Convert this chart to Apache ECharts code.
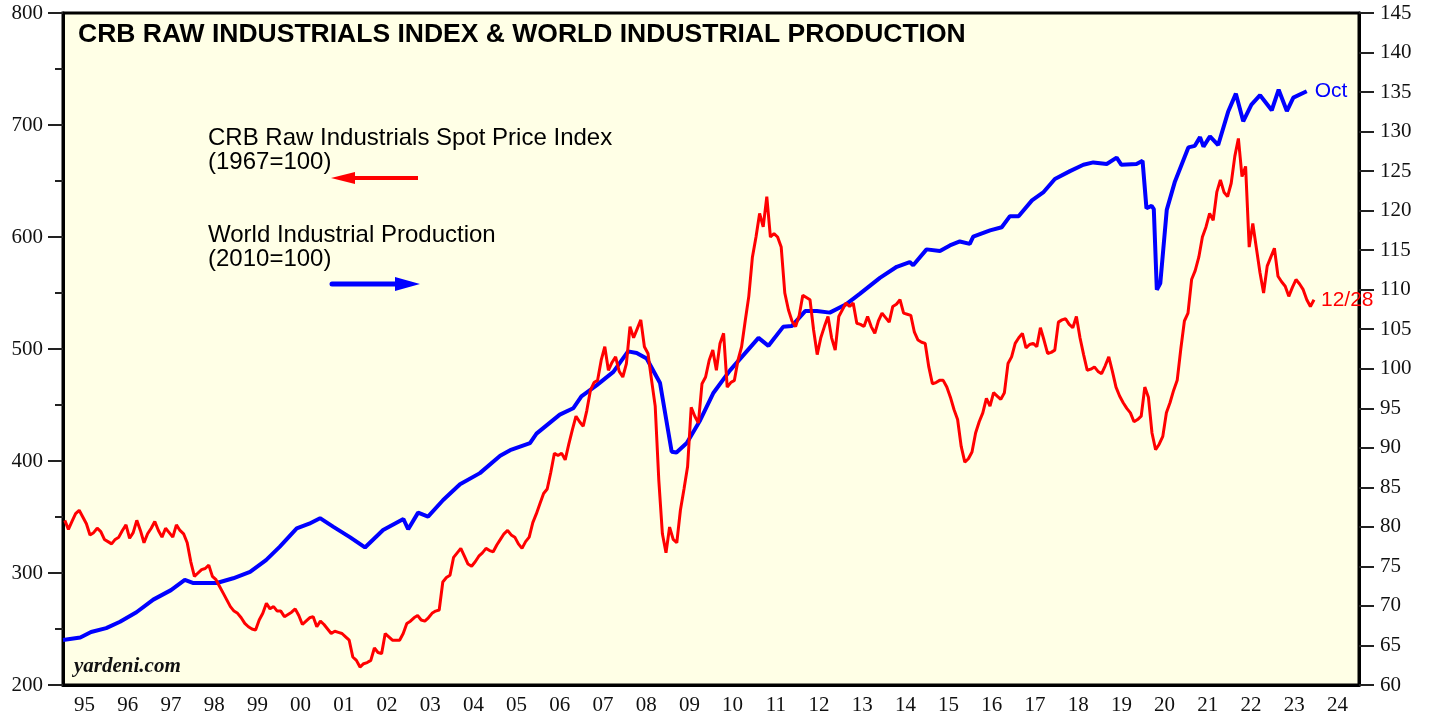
<!DOCTYPE html>
<html>
<head>
<meta charset="utf-8">
<script src="https://cdn.jsdelivr.net/npm/echarts@6/dist/echarts.min.js"></script>
<style>
  html, body { margin: 0; padding: 0; background: #fff; }
  #chart { width: 1429px; height: 719px; }
</style>
</head>
<body>
<div id="chart"></div>
<script>
// year labels on the bottom axis
const yearLabels = ['95','96','97','98','99','00','01','02','03','04','05','06','07','08','09',
  '10','11','12','13','14','15','16','17','18','19','20','21','22','23','24'];

// CRB raw industrials spot price index (1967=100), monthly, Jan 1995 .. Dec 2023
const crbStartYear = 1995;
const crbMonthly = [
  347, 339, 346, 353, 356, 350, 344, 334, 336, 340, 337, 330, // 1995
  328, 326, 330, 332, 338, 343, 331, 336, 347, 338, 327, 335, // 1996
  340, 346, 338, 332, 340, 336, 332, 343, 338, 335, 327, 310, // 1997
  297, 300, 303, 304, 307, 297, 294, 288, 282, 276, 270, 266, // 1998
  264, 260, 255, 252, 250, 249, 258, 264, 273, 268, 270, 266, // 1999
  266, 261, 263, 265, 268, 262, 254, 257, 260, 261, 252, 257, // 2000
  254, 250, 246, 248, 247, 246, 243, 240, 225, 222, 216, 219, // 2001
  220, 222, 233, 229, 228, 246, 243, 240, 240, 240, 246, 255, // 2002
  257, 260, 262, 258, 257, 260, 264, 266, 267, 292, 296, 298, // 2003
  314, 318, 322, 315, 308, 306, 310, 315, 318, 322, 320, 319, // 2004
  325, 330, 335, 338, 334, 332, 326, 322, 328, 332, 345, 353, // 2005
  362, 371, 375, 390, 407, 405, 407, 401, 415, 428, 440, 435, // 2006
  431, 445, 463, 470, 472, 490, 502, 481, 488, 493, 480, 475, // 2007
  487, 520, 510, 518, 526, 502, 496, 472, 449, 383, 335, 318, // 2008
  341, 330, 327, 356, 375, 395, 448, 440, 434, 469, 475, 490, // 2009
  499, 481, 505, 514, 466, 470, 472, 490, 502, 525, 547, 582, // 2010
  600, 621, 609, 636, 600, 603, 600, 591, 550, 535, 525, 520, // 2011
  530, 548, 546, 544, 517, 495, 510, 520, 529, 510, 499, 529, // 2012
  535, 541, 538, 541, 523, 522, 520, 529, 520, 514, 525, 532, // 2013
  528, 524, 538, 540, 544, 532, 531, 530, 515, 508, 506, 505, // 2014
  484, 469, 470, 472, 472, 466, 457, 446, 437, 413, 399, 402, // 2015
  408, 425, 435, 443, 456, 449, 461, 458, 455, 461, 487, 493, // 2016
  505, 510, 514, 501, 504, 505, 502, 519, 508, 496, 497, 499, // 2017
  524, 526, 527, 522, 519, 529, 510, 495, 481, 482, 484, 480, // 2018
  478, 485, 493, 480, 466, 458, 452, 447, 443, 435, 437, 440, // 2019
  466, 457, 425, 410, 415, 422, 443, 452, 463, 472, 500, 525, // 2020
  532, 562, 570, 582, 600, 609, 621, 615, 640, 651, 640, 636, // 2021
  648, 672, 688, 654, 663, 591, 612, 590, 568, 550, 574, 582, // 2022
  590, 565, 560, 556, 547, 555, 562, 558, 553, 544, 538, 544  // 2023
];

// World industrial production (2010=100), dates as decimal years
const wipDates = [
  1995.0, 1995.4, 1995.65, 1996.0, 1996.32, 1996.7, 1997.09, 1997.5, 1997.82, 1998.02, 1998.56, 1998.94,
  1999.33, 1999.7, 2000.02, 2000.41, 2000.7, 2000.95, 2001.26, 2001.64, 2001.99, 2002.41, 2002.88, 2002.99,
  2003.22, 2003.45, 2003.8, 2004.19, 2004.65, 2005.12, 2005.35, 2005.81, 2005.96, 2006.5, 2006.81, 2007.0,
  2007.35, 2007.74, 2008.08, 2008.28, 2008.51, 2008.82, 2009.09, 2009.2, 2009.44, 2009.75, 2010.05, 2010.44,
  2011.1, 2011.33, 2011.67, 2011.87, 2012.18, 2012.45, 2012.75, 2013.14, 2013.45, 2013.91, 2014.3, 2014.6,
  2014.68, 2014.99, 2015.3, 2015.53, 2015.76, 2015.99, 2016.07, 2016.46, 2016.73, 2016.92, 2017.12, 2017.43,
  2017.69, 2017.96, 2018.31, 2018.62, 2018.85, 2019.16, 2019.39, 2019.5, 2019.85, 2019.99, 2020.08, 2020.2,
  2020.25, 2020.32, 2020.4, 2020.55, 2020.74, 2021.05, 2021.2, 2021.32, 2021.4, 2021.55, 2021.74, 2021.97,
  2022.15, 2022.32, 2022.51, 2022.71, 2022.98, 2023.14, 2023.33, 2023.48, 2023.79
];
const wipValues = [
  65.7, 66.0, 66.7, 67.2, 68.0, 69.2, 70.8, 72.0, 73.3, 72.9, 72.9, 73.5,
  74.3, 75.8, 77.5, 79.8, 80.4, 81.1, 80.0, 78.7, 77.4, 79.6, 81.0, 79.7,
  81.8, 81.3, 83.4, 85.4, 86.8, 89.0, 89.7, 90.6, 91.8, 94.2, 95.0, 96.5,
  97.9, 99.6, 102.2, 102.0, 101.3, 98.2, 89.5, 89.4, 90.6, 93.5, 96.9, 99.8,
  103.9, 102.9, 105.3, 105.4, 107.3, 107.3, 107.1, 108.2, 109.5, 111.5, 112.9, 113.5,
  113.1, 115.1, 114.9, 115.6, 116.1, 115.8, 116.7, 117.5, 117.9, 119.3, 119.3, 121.3,
  122.3, 124.0, 125.0, 125.8, 126.1, 125.9, 126.7, 125.8, 125.9, 126.3, 120.3, 120.6,
  120.2, 110.0, 110.8, 120.1, 123.7, 128.0, 128.2, 129.3, 128.1, 129.4, 128.3, 132.5,
  134.8, 131.3, 133.4, 134.6, 132.7, 135.3, 132.6, 134.3, 135.1
];

const crbData = crbMonthly.map((v, i) => [crbStartYear + (i + 0.5) / 12, v]);
const wipData = wipDates.map((d, i) => [d, wipValues[i]]);

const serif = '"Liberation Serif", "DejaVu Serif", serif';
const sans = '"Liberation Sans", Arial, sans-serif';

const chart = echarts.init(document.getElementById('chart'));
chart.setOption({
  animation: false,
  backgroundColor: '#ffffff',
  grid: {
    left: 63, right: 70, top: 13, bottom: 34,
    show: true,
    backgroundColor: '#ffffe6',
    borderColor: '#000',
    borderWidth: 3
  },
  xAxis: [
    { type: 'value', min: 1995, max: 2025, show: false },
    {
      type: 'category',
      data: yearLabels,
      position: 'bottom',
      boundaryGap: true,
      axisLine: { lineStyle: { color: '#000', width: 3 } },
      axisTick: { length: 10, interval: 0, lineStyle: { color: '#000', width: 3 } },
      axisLabel: { interval: 0, color: '#111', fontFamily: serif, fontSize: 21, margin: 10 },
      splitLine: { show: false }
    }
  ],
  yAxis: [
    {
      type: 'value', min: 200, max: 800, interval: 100, position: 'left',
      axisLine: { show: true, lineStyle: { color: '#000', width: 3 } },
      axisTick: { show: true, length: 15, lineStyle: { color: '#222', width: 2 } },
      minorTick: { show: true, splitNumber: 2, length: 8, lineStyle: { color: '#222', width: 2 } },
      axisLabel: { color: '#111', fontFamily: serif, fontSize: 21, margin: 20 },
      splitLine: { show: false }
    },
    {
      type: 'value', min: 60, max: 145, interval: 5, position: 'right',
      axisLine: { show: true, lineStyle: { color: '#000', width: 3 } },
      axisTick: { show: true, length: 15, lineStyle: { color: '#222', width: 2 } },
      axisLabel: { color: '#111', fontFamily: serif, fontSize: 21, margin: 21 },
      splitLine: { show: false }
    }
  ],
  series: [
    {
      name: 'World Industrial Production',
      type: 'line',
      xAxisIndex: 0, yAxisIndex: 1,
      data: wipData,
      showSymbol: false,
      lineStyle: { color: '#0000ff', width: 4 },
      endLabel: { show: true, formatter: 'Oct', color: '#0000ff', fontFamily: sans, fontSize: 21, distance: 8 }
    },
    {
      name: 'CRB Raw Industrials Spot Price Index',
      type: 'line',
      xAxisIndex: 0, yAxisIndex: 0,
      data: crbData,
      showSymbol: false,
      lineStyle: { color: '#ff0000', width: 3 },
      endLabel: { show: true, formatter: '12/28', color: '#ff0000', fontFamily: sans, fontSize: 21, distance: 7 }
    }
  ],
  graphic: [
    { type: 'text', left: 78, top: 21,
      style: { text: 'CRB RAW INDUSTRIALS INDEX & WORLD INDUSTRIAL PRODUCTION', fill: '#000',
               font: 'bold 26.5px ' + sans } },
    { type: 'text', left: 208, top: 126,
      style: { text: 'CRB Raw Industrials Spot Price Index\n(1967=100)', fill: '#000',
               font: '24px ' + sans, lineHeight: 24 } },
    { type: 'text', left: 208, top: 223,
      style: { text: 'World Industrial Production\n(2010=100)', fill: '#000',
               font: '24px ' + sans, lineHeight: 24 } },
    { type: 'line', shape: { x1: 418, y1: 178, x2: 350, y2: 178 },
      style: { stroke: '#ff0000', lineWidth: 4 } },
    { type: 'polygon', shape: { points: [[331, 178], [355, 172], [355, 184]] },
      style: { fill: '#ff0000' } },
    { type: 'line', shape: { x1: 332, y1: 284, x2: 400, y2: 284 },
      style: { stroke: '#0000ff', lineWidth: 5, lineCap: 'round' } },
    { type: 'polygon', shape: { points: [[420, 284], [395, 277], [395, 291]] },
      style: { fill: '#0000ff' } },
    { type: 'text', left: 74, top: 656,
      style: { text: 'yardeni.com', fill: '#111', font: 'italic bold 21px ' + serif } }
  ]
});
</script>
</body>
</html>
